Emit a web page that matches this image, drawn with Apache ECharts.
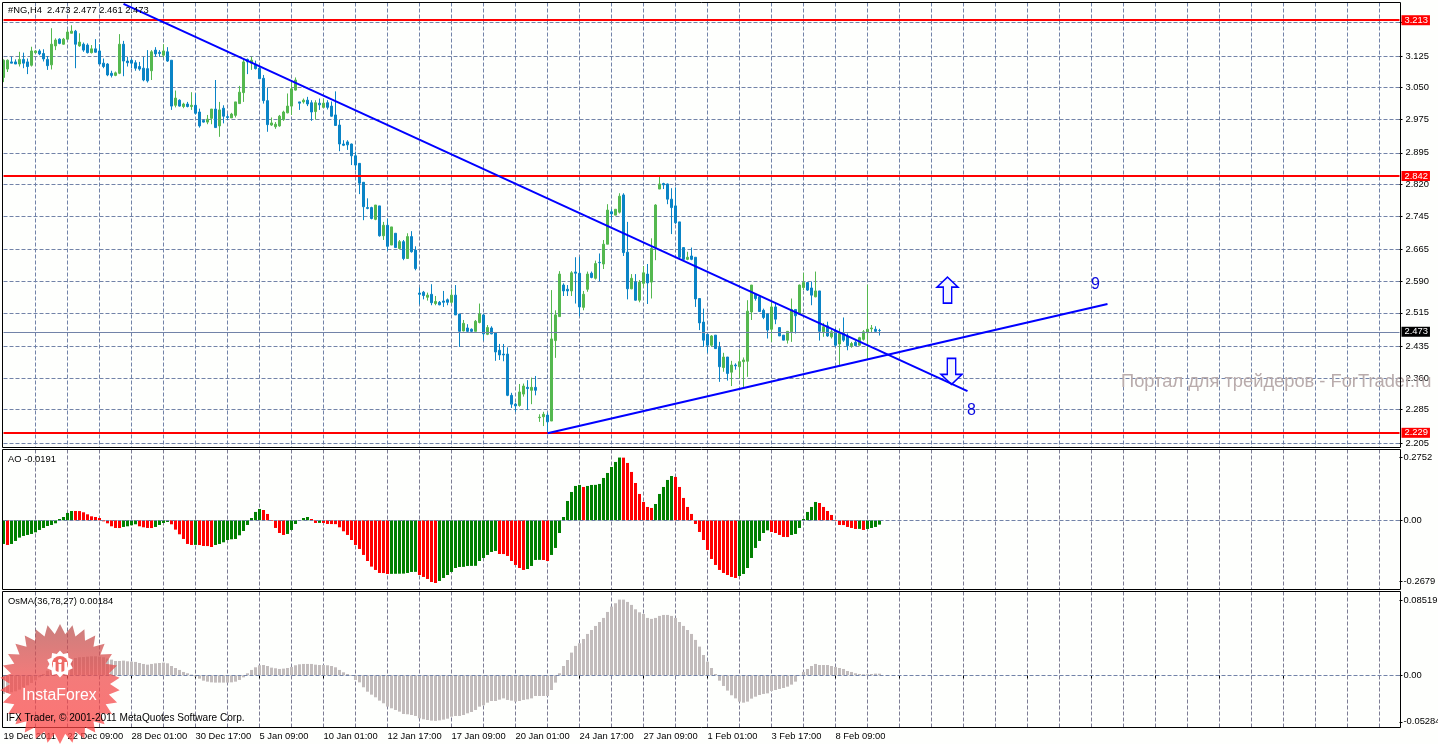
<!DOCTYPE html>
<html><head><meta charset="utf-8">
<style>html,body{margin:0;padding:0;background:#fff}#c{width:1438px;height:744px}</style>
<script src="https://cdn.jsdelivr.net/npm/echarts@6/dist/echarts.min.js"></script>
</head><body><div id="c"></div>
<script>
const opens=[3.074,3.094,3.111,3.111,3.106,3.117,3.111,3.103,3.133,3.137,
3.131,3.117,3.104,3.149,3.165,3.153,3.165,3.179,3.184,3.149,
3.153,3.151,3.133,3.142,3.137,3.108,3.106,3.084,3.079,3.084,
3.153,3.113,3.115,3.109,3.100,3.096,3.095,3.090,3.139,3.134,
3.127,3.135,3.115,3.008,3.020,3.005,3.011,3.005,3.008,2.992,
2.972,2.968,2.977,2.999,2.959,3.001,2.981,2.978,2.984,3.012,
3.038,3.117,3.108,3.106,3.096,3.072,3.019,2.961,2.957,2.959,
2.974,2.990,3.006,3.044,3.016,3.016,3.020,3.014,2.993,3.013,
3.003,3.014,3.006,2.985,2.961,2.916,2.921,2.916,2.888,2.870,
2.825,2.765,2.765,2.737,2.769,2.698,2.723,2.676,2.704,2.668,
2.684,2.644,2.696,2.664,2.562,2.564,2.552,2.559,2.537,2.540,
2.543,2.546,2.540,2.557,2.512,2.472,2.479,2.476,2.471,2.492,
2.510,2.464,2.479,2.467,2.426,2.417,2.417,2.319,2.298,2.295,
2.322,2.338,2.331,2.338,2.266,2.268,2.272,2.258,2.449,2.506,
2.581,2.571,2.567,2.612,2.609,2.528,2.571,2.609,2.597,2.635,
2.631,2.678,2.755,2.747,2.754,2.795,2.659,2.572,2.588,2.545,
2.585,2.607,2.588,2.670,2.809,2.822,2.821,2.785,2.769,2.731,
2.670,2.642,2.650,2.647,2.549,2.493,2.464,2.438,2.462,2.433,
2.385,2.410,2.374,2.391,2.387,2.399,2.400,2.517,2.559,2.553,
2.521,2.512,2.476,2.529,2.480,2.462,2.450,2.470,2.523,2.512,
2.575,2.587,2.574,2.553,2.567,2.470,2.484,2.458,2.472,2.441,
2.466,2.460,2.437,2.445,2.438,2.452,2.468,2.477,2.476,2.473];
const closes=[3.115,3.115,3.108,3.106,3.117,3.108,3.100,3.137,3.137,3.130,
3.118,3.102,3.153,3.163,3.155,3.165,3.182,3.184,3.153,3.158,
3.139,3.133,3.142,3.134,3.106,3.100,3.080,3.079,3.085,3.153,
3.113,3.109,3.108,3.096,3.094,3.068,3.066,3.135,3.130,3.131,
3.137,3.113,3.006,3.025,3.006,3.011,3.005,3.008,2.989,2.959,
2.968,2.975,2.999,2.955,2.997,2.982,2.979,2.987,3.016,3.039,
3.111,3.111,3.115,3.095,3.071,3.019,2.962,2.966,2.963,2.982,
2.992,3.006,3.047,3.068,3.013,3.020,3.011,2.992,3.014,3.009,
3.013,3.003,2.982,2.960,2.916,2.913,2.914,2.888,2.866,2.823,
2.767,2.763,2.739,2.771,2.698,2.723,2.673,2.719,2.670,2.684,
2.644,2.696,2.660,2.620,2.559,2.556,2.557,2.539,2.542,2.534,
2.540,2.540,2.557,2.510,2.471,2.490,2.471,2.471,2.495,2.512,
2.465,2.480,2.465,2.422,2.415,2.415,2.319,2.298,2.294,2.327,
2.341,2.335,2.338,2.331,2.267,2.274,2.256,2.453,2.510,2.607,
2.567,2.567,2.610,2.609,2.529,2.559,2.607,2.599,2.632,2.634,
2.678,2.759,2.750,2.761,2.792,2.658,2.572,2.597,2.545,2.588,
2.610,2.586,2.668,2.771,2.821,2.819,2.785,2.765,2.729,2.647,
2.642,2.647,2.642,2.548,2.491,2.450,2.438,2.460,2.430,2.387,
2.410,2.371,2.391,2.389,2.399,2.403,2.519,2.581,2.549,2.518,
2.504,2.474,2.529,2.500,2.460,2.450,2.471,2.523,2.508,2.581,
2.587,2.569,2.557,2.567,2.471,2.482,2.460,2.470,2.438,2.466,
2.450,2.437,2.442,2.437,2.456,2.470,2.476,2.479,2.471,2.473];
const lows=[3.063,3.087,3.108,3.106,3.100,3.096,3.082,3.100,3.131,3.127,
3.112,3.092,3.093,3.139,3.153,3.152,3.163,3.179,3.096,3.147,
3.135,3.131,3.131,3.133,3.105,3.096,3.077,3.074,3.077,3.082,
3.077,3.100,3.096,3.090,3.090,3.065,3.062,3.068,3.123,3.123,
3.122,3.111,2.997,3.003,3.005,3.001,3.003,2.997,2.986,2.955,
2.967,2.963,2.963,2.954,2.933,2.965,2.973,2.978,2.979,3.012,
3.016,3.082,3.092,3.093,3.070,3.012,2.945,2.959,2.952,2.957,
2.971,2.989,2.985,3.043,2.997,3.012,3.006,2.971,2.974,2.997,
3.001,2.998,2.981,2.959,2.899,2.911,2.902,2.866,2.854,2.797,
2.735,2.761,2.737,2.735,2.696,2.688,2.662,2.676,2.670,2.666,
2.640,2.644,2.658,2.616,2.535,2.547,2.544,2.533,2.533,2.533,
2.529,2.533,2.537,2.510,2.434,2.471,2.469,2.469,2.471,2.490,
2.449,2.462,2.464,2.401,2.403,2.400,2.317,2.289,2.280,2.292,
2.316,2.284,2.298,2.319,2.256,2.246,2.228,2.258,2.408,2.506,
2.555,2.555,2.555,2.537,2.507,2.521,2.565,2.597,2.594,2.590,
2.619,2.678,2.735,2.747,2.751,2.650,2.547,2.571,2.544,2.540,
2.575,2.536,2.549,2.640,2.809,2.809,2.773,2.702,2.726,2.644,
2.642,2.640,2.640,2.529,2.474,2.434,2.420,2.434,2.429,2.351,
2.375,2.354,2.341,2.380,2.359,2.339,2.363,2.498,2.544,2.517,
2.500,2.454,2.446,2.488,2.460,2.450,2.442,2.446,2.466,2.510,
2.569,2.567,2.533,2.552,2.449,2.458,2.458,2.454,2.434,2.391,
2.446,2.426,2.432,2.436,2.437,2.449,2.404,2.468,2.468,2.461];
const highs=[3.117,3.117,3.123,3.117,3.135,3.133,3.119,3.147,3.139,3.141,
3.141,3.125,3.191,3.167,3.167,3.168,3.188,3.198,3.187,3.179,
3.157,3.155,3.151,3.165,3.153,3.119,3.108,3.090,3.088,3.177,
3.161,3.123,3.119,3.115,3.111,3.123,3.139,3.139,3.146,3.139,
3.153,3.146,3.115,3.043,3.022,3.014,3.016,3.039,3.036,3.000,
2.974,2.985,2.999,3.068,3.016,3.008,2.987,2.990,3.016,3.054,
3.117,3.119,3.123,3.114,3.101,3.080,3.050,2.979,2.968,2.985,
2.995,3.036,3.068,3.074,3.016,3.024,3.028,3.020,3.020,3.024,
3.024,3.020,3.017,3.041,2.974,2.925,2.925,2.917,2.898,2.870,
2.825,2.787,2.767,2.771,2.769,2.731,2.739,2.719,2.704,2.688,
2.688,2.704,2.709,2.673,2.575,2.567,2.563,2.583,2.555,2.543,
2.567,2.549,2.571,2.581,2.512,2.498,2.488,2.478,2.498,2.537,
2.513,2.486,2.483,2.467,2.441,2.441,2.433,2.325,2.301,2.346,
2.347,2.355,2.361,2.365,2.274,2.280,2.278,2.569,2.521,2.614,
2.585,2.581,2.614,2.647,2.648,2.567,2.613,2.613,2.639,2.656,
2.688,2.773,2.761,2.761,2.799,2.799,2.731,2.607,2.607,2.593,
2.626,2.631,2.692,2.773,2.838,2.824,2.822,2.811,2.813,2.731,
2.670,2.660,2.670,2.647,2.549,2.525,2.464,2.462,2.462,2.446,
2.420,2.410,2.401,2.395,2.428,2.409,2.545,2.581,2.561,2.555,
2.525,2.513,2.544,2.537,2.480,2.462,2.471,2.549,2.523,2.582,
2.610,2.587,2.589,2.613,2.567,2.491,2.494,2.478,2.478,2.478,
2.504,2.466,2.446,2.449,2.458,2.474,2.582,2.486,2.483,2.477];
const aoValues=[-.1038,-.1082,-.1038,-.0906,-.0760,-.0687,-.0643,-.0599,-.0526,-.0424,
-.0336,-.0249,-.0205,-.0132,.0058,.0146,.0322,.0409,.0407,.0405,
.0351,.0263,.0175,.0146,.0102,-.0044,-.0132,-.0263,-.0336,-.0340,
-.0292,-.0263,-.0219,-.0175,-.0263,-.0307,-.0336,-.0340,-.0292,-.0205,
-.0117,-.0073,-.0175,-.0409,-.0614,-.0819,-.1038,-.1082,-.1078,-.1085,
-.1126,-.1130,-.1170,-.1082,-.1038,-.0965,-.0863,-.0833,-.0819,-.0658,
-.0468,-.0205,.0102,.0366,.0497,.0453,.0278,-.0029,-.0336,-.0556,
-.0643,-.0599,-.0424,-.0161,-.0029,.0102,.0146,.0058,-.0117,-.0113,
-.0117,-.0161,-.0165,-.0168,-.0307,-.0482,-.0643,-.0863,-.1082,-.1257,
-.1520,-.1784,-.2032,-.2178,-.2310,-.2314,-.2354,-.2350,-.2346,-.2342,
-.2338,-.2310,-.2266,-.2262,-.2398,-.2485,-.2573,-.2705,-.2749,-.2661,
-.2529,-.2398,-.2266,-.2091,-.2047,-.2043,-.2003,-.2000,-.1997,-.1784,
-.1652,-.1520,-.1389,-.1345,-.1477,-.1481,-.1564,-.1784,-.1959,-.2091,
-.2178,-.2135,-.2003,-.1740,-.1736,-.1742,-.1784,-.1520,-.1213,-.0556,
.0146,.0848,.1243,.1506,.1550,.1462,.1506,.1550,.1554,.1594,
.1857,.2076,.2339,.2559,.2752,.2748,.2515,.2120,.1637,.1155,
.0804,.0585,.0541,.0716,.1155,.1462,.1769,.1944,.1901,.1462,
.0980,.0585,.0278,-.0161,-.0512,-.0863,-.1301,-.1696,-.1959,-.2178,
-.2310,-.2398,-.2485,-.2529,-.2442,-.2354,-.2091,-.1652,-.1213,-.0906,
-.0556,-.0439,-.0512,-.0556,-.0643,-.0731,-.0735,-.0643,-.0599,-.0336,
.0058,.0366,.0585,.0804,.0760,.0585,.0409,.0234,-.0029,-.0205,
-.0209,-.0292,-.0336,-.0380,-.0376,-.0424,-.0380,-.0336,-.0292,-.0191];
const osmaValues=[-.0212,-.0201,-.0193,-.0182,-.0163,-.0136,-.0114,-.0087,-.0057,-.0023,
.0015,.0053,.0083,.0102,.0121,.0136,.0159,.0178,.0197,.0205,
.0208,.0212,.0216,.0216,.0212,.0205,.0190,.0178,.0163,.0163,
.0167,.0159,.0155,.0152,.0140,.0129,.0121,.0129,.0136,.0140,
.0144,.0136,.0106,.0083,.0061,.0038,.0023,.0008,-.0015,-.0038,
-.0061,-.0072,-.0080,-.0083,-.0083,-.0083,-.0083,-.0080,-.0072,-.0053,
-.0023,.0023,.0061,.0091,.0114,.0117,.0106,.0087,.0080,.0072,
.0076,.0083,.0095,.0114,.0125,.0129,.0129,.0129,.0121,.0117,
.0117,.0114,.0106,.0091,.0061,.0034,.0015,-.0008,-.0053,-.0080,
-.0136,-.0186,-.0220,-.0250,-.0288,-.0318,-.0356,-.0375,-.0394,-.0413,
-.0440,-.0443,-.0451,-.0462,-.0489,-.0500,-.0508,-.0515,-.0518,-.0512,
-.0504,-.0493,-.0470,-.0462,-.0462,-.0451,-.0432,-.0417,-.0394,-.0356,
-.0341,-.0311,-.0292,-.0292,-.0277,-.0262,-.0280,-.0288,-.0299,-.0292,
-.0280,-.0273,-.0262,-.0235,-.0235,-.0235,-.0235,-.0167,-.0083,.0023,
.0106,.0174,.0258,.0334,.0364,.0413,.0470,.0515,.0561,.0606,
.0652,.0720,.0781,.0819,.0860,.0860,.0834,.0800,.0750,.0716,
.0697,.0652,.0641,.0652,.0675,.0686,.0686,.0675,.0652,.0606,
.0561,.0515,.0470,.0402,.0326,.0231,.0155,.0083,.0015,-.0061,
-.0121,-.0174,-.0227,-.0262,-.0299,-.0311,-.0299,-.0265,-.0243,-.0224,
-.0212,-.0205,-.0178,-.0167,-.0155,-.0144,-.0129,-.0106,-.0072,-.0008,
.0038,.0072,.0106,.0129,.0117,.0117,.0117,.0106,.0095,.0083,
.0072,.0049,.0038,.0023,.0015,.0011,.0011,.0015,.0019,.00184];
const timeLabels=['19 Dec 2011','22 Dec 09:00','28 Dec 01:00','30 Dec 17:00','5 Jan 09:00','10 Jan 01:00','12 Jan 17:00','17 Jan 09:00','20 Jan 01:00','24 Jan 17:00','27 Jan 09:00','1 Feb 01:00','3 Feb 17:00','8 Feb 09:00'];
const priceTicks=[3.205,3.125,3.050,2.975,2.895,2.820,2.745,2.665,2.590,2.515,2.435,2.360,2.285,2.205];
const aoTicks=[0.2752,0,-0.2679];
const osmaTicks=[0.08519,0,-0.05284];
const levels=[3.213,2.842,2.229];
const bid=2.473;
const fallingLine=[[30,3.249],[241,2.329]];
const risingLine=[[136,2.229],[276,2.536]];

const SLOTS=350;
const categories=Array.from({length:SLOTS},(_,i)=>i%16===0&&timeLabels[i/16]?timeLabels[i/16]:'');
const candles=opens.map((o,i)=>[o,closes[i],lows[i],highs[i]]);
const FONT='"Liberation Sans",Arial,sans-serif', FS=9.4;
const GRID='#7283a8';
const gridDash={color:GRID,type:[4,2],width:1};
const noLine={show:false};
function xAxis(idx,bottom){return {type:'category',gridIndex:idx,data:categories,boundaryGap:false,
  axisLine:noLine,
  axisTick:bottom?{show:true,length:3,interval:i=>i%16===0,lineStyle:{color:'#000'}}:noLine,
  axisLabel:bottom?{show:true,interval:i=>i%16===0,align:'left',margin:4,color:'#000',fontFamily:FONT,fontSize:FS,hideOverlap:false,showMinLabel:true,showMaxLabel:false}:noLine,
  splitLine:{show:true,interval:i=>i>0&&i%8===0,lineStyle:idx===0?gridDash:{color:'#7c7c94',type:[4,2],width:1}}};}
function yAxis(idx,min,max,ticks,fmt,split,margin){return {type:'value',gridIndex:idx,position:'right',min,max,
  axisLine:noLine,
  axisTick:{show:true,length:3,customValues:ticks,lineStyle:{color:'#000'},inside:false},
  axisLabel:{show:true,customValues:ticks,formatter:fmt,margin,color:'#000',fontFamily:FONT,fontSize:FS,hideOverlap:false,showMinLabel:true,showMaxLabel:true},
  splitLine:{show:split,lineStyle:gridDash}};}
const zeroMark={silent:true,symbol:'none',label:{show:false},lineStyle:{color:GRID,type:[4,2],width:1},data:[{yAxis:0}]};
const badge=(v,bg)=>({yAxis:v,lineStyle:{color:bg==='#000'?GRID:'#ff0000',width:bg==='#000'?1:2,type:'solid'},
  label:{show:true,position:'end',distance:2,formatter:v.toFixed(3),color:'#fff',backgroundColor:bg,padding:[1,2,0,3],fontFamily:FONT,fontSize:FS}});
const UP='path://M10,0 L20,10 L14,10 L14,26 L6,26 L6,10 L0,10 Z';
const DOWN='path://M6,0 L14,0 L14,16 L20,16 L10,26 L0,16 L6,16 Z';
const arrow=(coord,symbol)=>({coord,symbol,symbolSize:[21,26],itemStyle:{color:'#f4f6ff',borderColor:'#0000ff',borderWidth:1.5},label:{show:false}});
const digit=(coord,t)=>({coord,symbol:'circle',symbolSize:1,itemStyle:{color:'transparent'},label:{show:true,position:'inside',formatter:t,color:'#0b0be0',fontFamily:FONT,fontSize:16}});
const trendStyle={type:'line',xAxisIndex:0,yAxisIndex:0,showSymbol:false,silent:true,z:6,lineStyle:{color:'#0000ff',width:2}};

function starPoints(cx,cy,ro,ri,n){const p=[];for(let i=0;i<n*2;i++){const r=i%2?ri:ro,a=Math.PI*i/n-Math.PI/2;p.push([cx+r*Math.cos(a),cy+r*Math.sin(a)]);}return p;}
const panel=(y,h)=>({type:'rect',silent:true,z:50,shape:{x:2.5,y,width:1398,height:h},style:{fill:'none',stroke:'#000',lineWidth:1}});
const label=(x,y,text,o)=>({type:'text',silent:true,z:80,x,y,style:Object.assign({text,fill:'#000',font:FS+'px '+FONT,textVerticalAlign:'middle'},o||{})});

const chart=echarts.init(document.getElementById('c'),null,{renderer:'canvas'});
const gridBase={left:3.5,width:1396,outerBoundsMode:'none'};
chart.setOption({animation:false,backgroundColor:'#fefffd',
 grid:[Object.assign({top:2.5,height:445},gridBase),Object.assign({top:449.5,height:140},gridBase),Object.assign({top:591.5,height:136},gridBase)],
 xAxis:[xAxis(0,false),xAxis(1,false),xAxis(2,true)],
 yAxis:[yAxis(0,2.1951,3.2521,priceTicks,v=>v.toFixed(3),true,6),
        yAxis(1,-0.3035,0.3105,aoTicks,v=>v===0?'0.00':String(v),false,4),
        yAxis(2,-0.05932,0.09523,osmaTicks,v=>v===0?'0.00':String(v),false,4)],
 series:[
  {type:'candlestick',xAxisIndex:0,yAxisIndex:0,data:candles,barWidth:2,z:3,silent:true,
   itemStyle:{color:'#54b84f',color0:'#0a84c6',borderColor:'#54b84f',borderColor0:'#0a84c6',borderColorDoji:'#0a84c6',borderWidth:1},
   markLine:{silent:true,symbol:'none',z:5,data:[badge(levels[0],'#ff0000'),badge(levels[1],'#ff0000'),badge(levels[2],'#ff0000'),badge(bid,'#000')]}},
  Object.assign({},trendStyle,{data:fallingLine}),
  Object.assign({},trendStyle,{data:risingLine,
    markPoint:{silent:true,data:[arrow([236,2.569],UP),arrow([237,2.376],DOWN),digit([242,2.282],'8'),digit([273,2.581],'9')]}}),
  {type:'bar',xAxisIndex:1,yAxisIndex:1,data:aoValues,barWidth:3,z:3,silent:true,
   itemStyle:{color:p=>p.dataIndex===0||aoValues[p.dataIndex]>=aoValues[p.dataIndex-1]?'#008000':'#ff0000'},markLine:zeroMark},
  {type:'bar',xAxisIndex:2,yAxisIndex:2,data:osmaValues,barWidth:3,z:3,silent:true,
   itemStyle:{color:'#c2bcbc'},markLine:zeroMark}
 ],
 graphic:[
  panel(2.5,445),panel(449.5,140),panel(591.5,136),
  label(8,10.5,'#NG,H4  2.473 2.477 2.461 2.473'),
  label(8,459.5,'AO -0.0191'),
  label(8,601.5,'OsMA(36,78,27) 0.00184'),
  {type:'text',silent:true,z:40,x:1121,y:382,style:{text:'Портал для трейдеров - ForTrader.ru',fill:'#b9acac',font:'18.3px '+FONT,textVerticalAlign:'middle'}},
  {type:'polygon',silent:true,z:70,shape:{points:starPoints(60,684,60,50,30)},style:{opacity:.74,fill:new echarts.graphic.LinearGradient(0,0,0,1,[{offset:0,color:'#b85250'},{offset:.45,color:'#f04c4c'},{offset:1,color:'#ff4242'}])}},
  {type:'polygon',silent:true,z:71,shape:{points:starPoints(60,664,13.5,10.5,10)},style:{fill:'#fff'}},
  {type:'circle',silent:true,z:72,shape:{cx:60,cy:664,r:8},style:{fill:'#ee6a66'}},
  {type:'circle',silent:true,z:73,shape:{cx:60,cy:661,r:2},style:{fill:'#fff'}},
  {type:'rect',silent:true,z:73,shape:{x:58.6,y:664,width:2.8,height:11},style:{fill:'#fff'}},
  {type:'rect',silent:true,z:73,shape:{x:53,y:662,width:2.6,height:11},style:{fill:'#fff'}},
  {type:'rect',silent:true,z:73,shape:{x:64.4,y:662,width:2.6,height:11},style:{fill:'#fff'}},
  {type:'text',silent:true,z:74,x:22,y:695.5,style:{text:'InstaForex',fill:'#fff',font:'15.8px '+FONT,textVerticalAlign:'middle'}},
  label(6,718.5,'IFX Trader, © 2001-2011 MetaQuotes Software Corp.',{font:'10.1px '+FONT})
 ]
});
</script></body></html>
